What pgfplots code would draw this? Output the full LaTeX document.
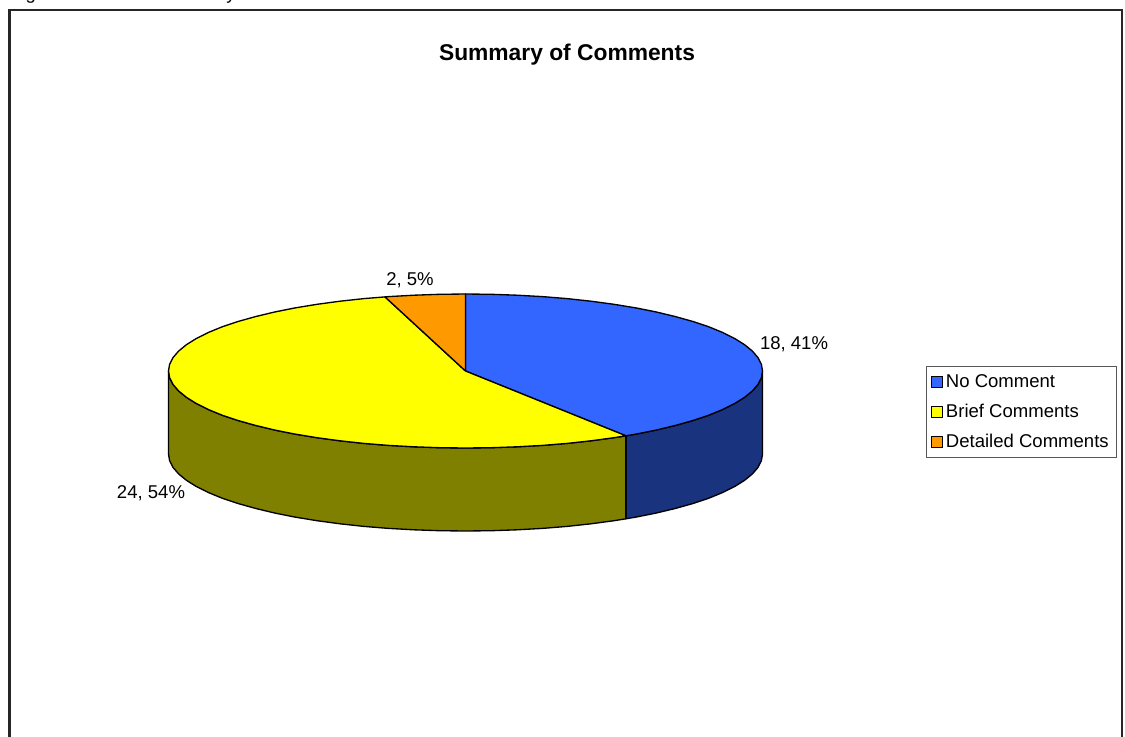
\documentclass[border=0pt]{standalone}
\usepackage{fontspec}
\setmainfont{Liberation Sans}
\usepackage{pgfplots}
\pgfplotsset{compat=1.18}
\definecolor{nocomment}{HTML}{3366FF}
\definecolor{nocommentside}{HTML}{19337F}
\definecolor{brief}{HTML}{FFFF00}
\definecolor{briefside}{HTML}{808000}
\definecolor{detailed}{HTML}{FF9900}
\pagestyle{empty}
\begin{document}
\begin{tikzpicture}
\clip (0,0) rectangle (843.75pt,552pt);
\begin{axis}[
  at={(0,0)}, anchor=south west,
  scale only axis, width=843.75pt, height=552pt,
  xmin=0, xmax=1125, ymin=0, ymax=736, y dir=reverse,
  axis lines=none, clip=false,
  legend style={at={(axis cs:925.5,366)}, anchor=north west, draw=black!65, line width=0.9pt,
    inner xsep=3.8pt, inner ysep=3.7pt, row sep=7.1pt, font=\fontsize{13.9pt}{15pt}\selectfont,
    /tikz/every even column/.style={column sep=3.25pt}},
  legend cell align=left,
  legend image code/.code={\draw[#1,line width=0.9pt] (2pt,-4.3pt) rectangle (10.2pt,3.9pt);},
  every axis plot/.append style={line width=1pt, draw=black, line join=round},
]
% Rim of the lower disc: the side walls, front half only
\addplot[fill=nocommentside, forget plot] coordinates {
 (762.5,371)(761.4,377.7)(758,384.4)(752.4,390.9)(744.6,397.3)(734.7,403.5)(722.7,409.5)(708.8,415.2)(693,420.5)(675.5,425.4)(656.4,430)(635.9,434.1)(625.9,435.8)
 (625.9,518.8)(635.9,517.1)(656.4,513)(675.5,508.4)(693,503.5)(708.8,498.2)(722.7,492.5)(734.7,486.5)(744.6,480.3)(752.4,473.9)(758,467.4)(761.4,460.7)(762.5,454) (762.5,371)};
\addplot[fill=briefside, forget plot] coordinates {
 (625.9,435.8)(614,437.7)(591,440.8)(567.1,443.4)(542.4,445.4)(517.1,446.8)(491.4,447.7)(465.5,448)(439.6,447.7)(413.9,446.8)(388.6,445.4)(363.9,443.4)(340,440.8)(317,437.7)(295.1,434.1)(274.6,430)(255.5,425.4)(238,420.5)(222.2,415.2)(208.3,409.5)(196.3,403.5)(186.4,397.3)(178.6,390.9)(173,384.4)(169.6,377.7)(168.5,371)
 (168.5,454)(169.6,460.7)(173,467.4)(178.6,473.9)(186.4,480.3)(196.3,486.5)(208.3,492.5)(222.2,498.2)(238,503.5)(255.5,508.4)(274.6,513)(295.1,517.1)(317,520.7)(340,523.8)(363.9,526.4)(388.6,528.4)(413.9,529.8)(439.6,530.7)(465.5,531)(491.4,530.7)(517.1,529.8)(542.4,528.4)(567.1,526.4)(591,523.8)(614,520.7)(625.9,518.8) (625.9,435.8)};
% Top face, one wedge per category
\addplot[fill=nocomment] coordinates {
 (465.5,371)(465.5,294)(491.4,294.3)(517.1,295.2)(542.4,296.6)(567.1,298.6)(591,301.2)(614,304.3)(635.9,307.9)(656.4,312)(675.5,316.6)(693,321.5)(708.8,326.8)(722.7,332.5)(734.7,338.5)(744.6,344.7)(752.4,351.1)(758,357.6)(761.4,364.3)(762.5,371)(761.4,377.7)(758,384.4)(752.4,390.9)(744.6,397.3)(734.7,403.5)(722.7,409.5)(708.8,415.2)(693,420.5)(675.5,425.4)(656.4,430)(635.9,434.1)(625.9,435.8)(465.5,371)};
\addlegendentry{No Comment}
\addplot[fill=brief] coordinates {
 (465.5,371)(625.9,435.8)(614,437.7)(591,440.8)(567.1,443.4)(542.4,445.4)(517.1,446.8)(491.4,447.7)(465.5,448)(439.6,447.7)(413.9,446.8)(388.6,445.4)(363.9,443.4)(340,440.8)(317,437.7)(295.1,434.1)(274.6,430)(255.5,425.4)(238,420.5)(222.2,415.2)(208.3,409.5)(196.3,403.5)(186.4,397.3)(178.6,390.9)(173,384.4)(169.6,377.7)(168.5,371)(169.6,364.3)(173,357.6)(178.6,351.1)(186.4,344.7)(196.3,338.5)(208.3,332.5)(222.2,326.8)(238,321.5)(255.5,316.6)(274.6,312)(295.1,307.9)(317,304.3)(340,301.2)(363.9,298.6)(385,296.9)(465.5,371)};
\addlegendentry{Brief Comments}
\addplot[fill=detailed] coordinates {
 (465.5,371)(385,296.9)(388.6,296.6)(413.9,295.2)(439.6,294.3)(465.5,294)(465.5,371)};
\addlegendentry{Detailed Comments}
% Chart frame, open at the foot of the page
\draw[line width=1.6pt, black!85] (axis cs:9.5,745) -- (axis cs:9.5,10.3) -- (axis cs:1122,10.3) -- (axis cs:1122,745);
% Caption line above the frame, only its descenders fall on the page
\node[anchor=base west, inner sep=0pt, font=\fontsize{13.9pt}{15pt}\selectfont] at (axis cs:10,-1) {Figure};
\node[anchor=base east, inner sep=0pt, font=\fontsize{13.9pt}{15pt}\selectfont] at (axis cs:236,-1) {Summary};
\node[font=\bfseries\fontsize{17.1pt}{19pt}\selectfont] at (axis cs:567,55) {Summary of Comments};
\node[font=\fontsize{13.9pt}{15pt}\selectfont] at (axis cs:410,280) {2, 5\%};
\node[font=\fontsize{13.9pt}{15pt}\selectfont] at (axis cs:794,344) {18, 41\%};
\node[font=\fontsize{13.9pt}{15pt}\selectfont] at (axis cs:151,493) {24, 54\%};
\end{axis}
\end{tikzpicture}
\end{document}
